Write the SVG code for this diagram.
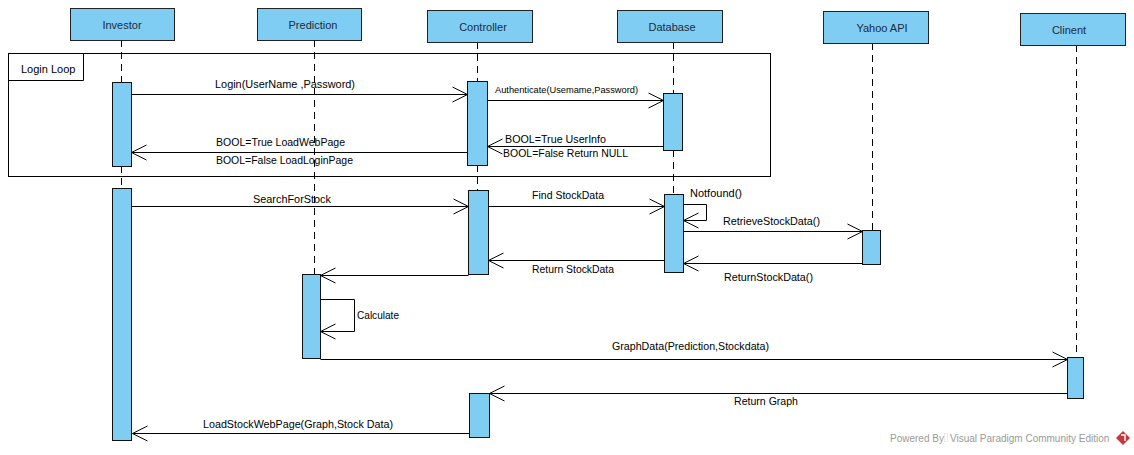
<svg xmlns="http://www.w3.org/2000/svg" width="1134" height="455" viewBox="0 0 1134 455">
<defs>
<marker id="open" markerUnits="userSpaceOnUse" markerWidth="16" markerHeight="16" refX="15" refY="7.5" orient="auto" overflow="visible">
<path d="M0,0 L15,7.5 L0,15" fill="none" stroke="#000" stroke-width="1"/>
</marker>
</defs>
<style>
.head{fill:#7fcdf3;stroke:#222;stroke-width:1}
.act{fill:#7fcdf3;stroke:#111;stroke-width:1}
.ht{font-family:"Liberation Sans",Arial,sans-serif;font-size:11px;fill:#1b2b3d;text-anchor:middle}
.life{stroke:#000;stroke-width:1;stroke-dasharray:7,5;fill:none}
.msg{stroke:#000;stroke-width:1;fill:none;marker-end:url(#open)}
.lbl{font-family:"Liberation Sans",Arial,sans-serif;font-size:11px;fill:#000}
.sm{font-size:9.5px}
.frame{fill:none;stroke:#000;stroke-width:1}
.wm{font-family:"Liberation Sans",Arial,sans-serif;font-size:10px;fill:#9a9a9a}
</style>
<rect width="1134" height="455" fill="#fff"/>

<g id="loop">
<rect class="frame" x="8.5" y="53.5" width="762" height="123"/>
<path class="frame" d="M8.5,80.5 H83.5 V53.5"/>
<text class="lbl" x="21" y="73">Login Loop</text>
</g>

<g id="investor">
<path class="life" d="M121.5,40 V82 M121.5,166 V188"/>
<rect class="head" x="70.5" y="8.5" width="104" height="32"/>
<text class="ht" x="122" y="29">Investor</text>
<rect class="act" x="112.5" y="82.5" width="19" height="84"/>
<rect class="act" x="112.5" y="188.5" width="19" height="252"/>
</g>

<g id="prediction">
<path class="life" d="M314.5,40 V274"/>
<rect class="head" x="257.5" y="8.5" width="104" height="32"/>
<text class="ht" x="313" y="29">Prediction</text>
<rect class="act" x="302.5" y="274.5" width="18" height="84"/>
</g>

<g id="controller">
<path class="life" d="M477.5,42 V81 M477.5,165 V190"/>
<rect class="head" x="427.5" y="10.5" width="105" height="32"/>
<text class="ht" x="483" y="31">Controller</text>
<rect class="act" x="467.5" y="81.5" width="20" height="84"/>
<rect class="act" x="468.5" y="190.5" width="20" height="84"/>
<rect class="act" x="469.5" y="393.5" width="20" height="44"/>
</g>

<g id="database">
<path class="life" d="M673.5,42 V93 M673.5,150 V194"/>
<rect class="head" x="617.5" y="10.5" width="105" height="32"/>
<text class="ht" x="672" y="31">Database</text>
<rect class="act" x="663.5" y="93.5" width="19" height="57"/>
<rect class="act" x="664.5" y="194.5" width="19" height="78"/>
</g>

<g id="yahoo">
<path class="life" d="M872.5,43 V230"/>
<rect class="head" x="823.5" y="11.5" width="105" height="32"/>
<text class="ht" x="882" y="32">Yahoo API</text>
<rect class="act" x="862.5" y="230.5" width="18" height="34"/>
</g>

<g id="client">
<path class="life" d="M1076.5,45 V357"/>
<rect class="head" x="1020.5" y="13.5" width="105" height="32"/>
<text class="ht" x="1069" y="34">Clinent</text>
<rect class="act" x="1067.5" y="357.5" width="16" height="41"/>
</g>

<g id="connectors">
<path class="msg" d="M131.5,94.5 H467.5"/>
<text class="lbl" x="215" y="88" textLength="140" lengthAdjust="spacingAndGlyphs">Login(UserName ,Password)</text>

<path class="msg" d="M487.5,100.5 H663.5"/>
<text class="lbl sm" x="495" y="93" textLength="143" lengthAdjust="spacingAndGlyphs">Authenticate(Usemame,Password)</text>

<path class="msg" d="M663.5,146.5 H487.5"/>
<text class="lbl" x="505" y="143" textLength="101" lengthAdjust="spacingAndGlyphs">BOOL=True UserInfo</text>
<text class="lbl" x="503" y="157" textLength="125" lengthAdjust="spacingAndGlyphs">BOOL=False Return NULL</text>

<path class="msg" d="M467.5,152.5 H131.5"/>
<text class="lbl" x="216" y="146" textLength="129" lengthAdjust="spacingAndGlyphs">BOOL=True LoadWebPage</text>
<text class="lbl" x="216" y="164" textLength="137" lengthAdjust="spacingAndGlyphs">BOOL=False LoadLoginPage</text>

<path class="msg" d="M131.5,206.5 H468.5"/>
<text class="lbl" x="253" y="203" textLength="78" lengthAdjust="spacingAndGlyphs">SearchForStock</text>

<path class="msg" d="M488.5,206.5 H664.5"/>
<text class="lbl" x="532" y="199" textLength="72" lengthAdjust="spacingAndGlyphs">Find StockData</text>

<path class="msg" d="M683.5,204.5 H706.5 V220.5 H683.5"/>
<text class="lbl" x="690" y="197" textLength="52" lengthAdjust="spacingAndGlyphs">Notfound()</text>

<path class="msg" d="M683.5,231.5 H862.5"/>
<text class="lbl" x="723" y="225" textLength="97" lengthAdjust="spacingAndGlyphs">RetrieveStockData()</text>

<path class="msg" d="M862.5,263.5 H683.5"/>
<text class="lbl" x="724" y="281" textLength="89" lengthAdjust="spacingAndGlyphs">ReturnStockData()</text>

<path class="msg" d="M664.5,260.5 H488.5"/>
<text class="lbl" x="532" y="273" textLength="82" lengthAdjust="spacingAndGlyphs">Return StockData</text>

<path class="msg" d="M468.5,275.5 H320.5"/>

<path class="msg" d="M320.5,299.5 H354.5 V331.5 H320.5"/>
<text class="lbl" x="357" y="319" textLength="42" lengthAdjust="spacingAndGlyphs">Calculate</text>

<path class="msg" d="M320.5,359.5 H1067.5"/>
<text class="lbl" x="612" y="350" textLength="157" lengthAdjust="spacingAndGlyphs">GraphData(Prediction,Stockdata)</text>

<path class="msg" d="M1067.5,393.5 H489.5"/>
<text class="lbl" x="734" y="405" textLength="64" lengthAdjust="spacingAndGlyphs">Return Graph</text>

<path class="msg" d="M469.5,433.5 H132.5"/>
<text class="lbl" x="203" y="428" textLength="190" lengthAdjust="spacingAndGlyphs">LoadStockWebPage(Graph,Stock Data)</text>
</g>

<g id="watermark">
<text class="wm" x="890" y="442">Powered By</text>
<rect x="944.5" y="433.5" width="3" height="8" fill="none" stroke="#ddd" stroke-width="0.6"/>
<text class="wm" x="950" y="442">Visual Paradigm Community Edition</text>
<path d="M1123,431 L1130,438 L1123,445 L1116,438 Z" fill="#c9363c"/>
<path d="M1121,435 H1125 V441" fill="none" stroke="#fff" stroke-width="1.5"/>
</g>
</svg>
